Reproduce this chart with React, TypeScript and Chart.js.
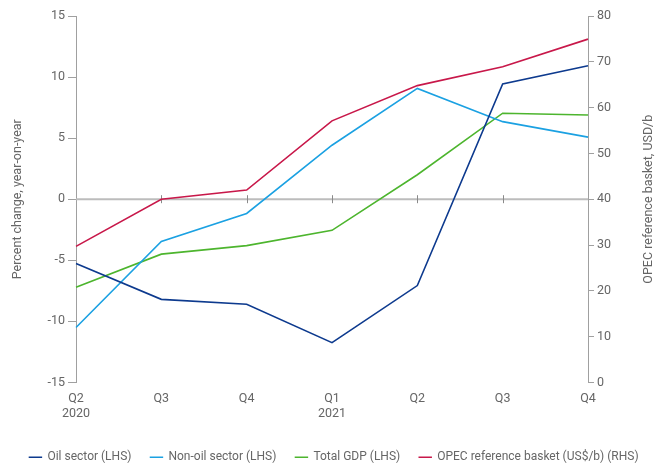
import React, { useEffect, useRef } from "react";
import { Chart, registerables } from "chart.js";

Chart.register(...registerables);

const categories: string[][] = [["Q2", "2020"], ["Q3"], ["Q4"], ["Q1", "2021"], ["Q2"], ["Q3"], ["Q4"]];
const oilSector = [-5.27, -8.2, -8.6, -11.75, -7.07, 9.43, 10.93];
const nonOilSector = [-10.5, -3.46, -1.17, 4.42, 9.07, 6.35, 5.08];
const totalGdp = [-7.2, -4.5, -3.8, -2.55, 2.0, 7.04, 6.9];
const opecBasket = [29.7, 40.0, 42.0, 57.1, 64.8, 68.9, 74.95];

const seriesLabels = [
  "Oil sector (LHS)",
  "Non-oil sector (LHS)",
  "Total GDP (LHS)",
  "OPEC reference basket (US$/b) (RHS)",
];
const leftTitle = "Percent change, year-on-year";
const rightTitle = "OPEC reference basket, USD/b";

const FONT = "Roboto, 'Liberation Sans', sans-serif";
const FS = 12.5;
const LFS = 12;
const TEXT = "#666666";
const AXIS = "#a0a0a0";
const LEGEND_PAD = 19;

const decorPlugin = {
  id: "decor",
  beforeDatasetsDraw(chart: any) {
    const { ctx, chartArea, scales } = chart;
    const y0 = scales.y.getPixelForValue(0);
    ctx.save();
    ctx.strokeStyle = "#bcbcbc";
    ctx.lineWidth = 2;
    ctx.beginPath();
    ctx.moveTo(chartArea.left, y0);
    ctx.lineTo(chartArea.right, y0);
    ctx.stroke();
    ctx.strokeStyle = "#8a8a8a";
    ctx.lineWidth = 1;
    for (let i = 1; i < categories.length - 1; i++) {
      const x = Math.round(scales.x.getPixelForValue(i)) + 0.5;
      ctx.beginPath();
      ctx.moveTo(x, y0 - 4);
      ctx.lineTo(x, y0 + 4);
      ctx.stroke();
    }
    ctx.restore();
  },
  afterDraw(chart: any) {
    const { ctx, chartArea } = chart;
    const cy = (chartArea.top + chartArea.bottom) / 2;
    const drawTitle = (text: string, x: number) => {
      ctx.save();
      ctx.fillStyle = TEXT;
      ctx.font = `${FS}px ${FONT}`;
      ctx.textAlign = "center";
      ctx.textBaseline = "middle";
      ctx.translate(x, cy);
      ctx.rotate(-Math.PI / 2);
      ctx.fillText(text, 0, 0);
      ctx.restore();
    };
    drawTitle(leftTitle, 18);
    drawTitle(rightTitle, 649);
  },
};

export default function App() {
  const ref = useRef<HTMLCanvasElement>(null);
  useEffect(() => {
    if (!ref.current) return;
    const mk = (label: string, data: number[], color: string, axis: string) => ({
      label,
      data,
      borderColor: color,
      backgroundColor: color,
      borderWidth: 1.6,
      pointRadius: 0,
      tension: 0,
      yAxisID: axis,
    });
    const chart = new Chart(ref.current, {
      type: "line",
      data: {
        labels: categories,
        datasets: [
          mk(seriesLabels[0], oilSector, "#0d3a8e", "y"),
          mk(seriesLabels[1], nonOilSector, "#1ba1e2", "y"),
          mk(seriesLabels[2], totalGdp, "#4db52e", "y"),
          mk(seriesLabels[3], opecBasket, "#c8184a", "y1"),
        ],
      },
      options: {
        animation: false,
        responsive: true,
        maintainAspectRatio: false,
        layout: { padding: { left: 0, right: 0, top: 16, bottom: -7.2 } },
        plugins: {
          tooltip: { enabled: false },
          legend: {
            position: "bottom",
            labels: {
              usePointStyle: true,
              pointStyle: "line",
              boxWidth: 13,
              boxHeight: 9.5,
              padding: LEGEND_PAD,
              color: TEXT,
              font: { family: FONT, size: LFS },
            },
          },
        },
        scales: {
          x: {
            offset: false,
            grid: { display: false, drawTicks: false },
            border: { display: false },
            ticks: {
              color: TEXT,
              font: { family: FONT, size: FS },
              padding: 9,
              maxRotation: 0,
              autoSkip: false,
            },
            afterFit: (s: any) => {
              s.height = 68.8 - LEGEND_PAD;
            },
          },
          y: {
            position: "left",
            min: -15,
            max: 15,
            ticks: { stepSize: 5, color: TEXT, font: { family: FONT, size: FS }, padding: 3 },
            grid: { drawOnChartArea: false, drawTicks: true, tickLength: 8, color: AXIS },
            border: { display: true, color: AXIS, width: 1 },
            afterFit: (s: any) => {
              s.width = 76;
            },
          },
          y1: {
            position: "right",
            min: 0,
            max: 80,
            ticks: { stepSize: 10, color: TEXT, font: { family: FONT, size: FS }, padding: 3 },
            grid: { drawOnChartArea: false, drawTicks: true, tickLength: 6, color: AXIS },
            border: { display: true, color: AXIS, width: 1 },
            afterFit: (s: any) => {
              s.width = 80;
            },
          },
        },
      },
      plugins: [decorPlugin],
    } as any);
    return () => chart.destroy();
  }, []);
  return (
    <div style={{ position: "fixed", left: 0, top: 0, width: 668, height: 466 }}>
      <canvas ref={ref} />
    </div>
  );
}
